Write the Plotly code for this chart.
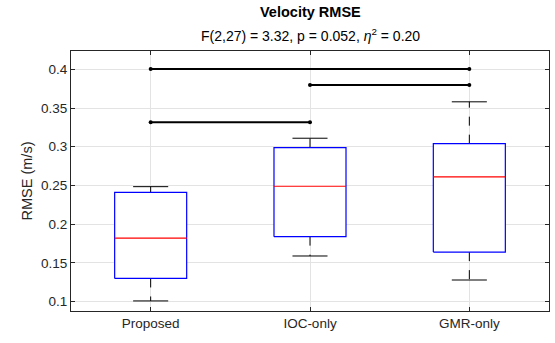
import plotly.graph_objects as go

categories = ["Proposed", "IOC-only", "GMR-only"]
lower_whisker = [0.101, 0.159, 0.128]
q1 = [0.130, 0.184, 0.164]
median = [0.182, 0.249, 0.261]
q3 = [0.241, 0.299, 0.304]
upper_whisker = [0.2485, 0.311, 0.358]

sig_pairs = [(1, 3), (2, 3), (1, 2)]
sig_heights = [0.4005, 0.3797, 0.3316]

y_ticks = [0.1, 0.15, 0.2, 0.25, 0.3, 0.35, 0.4]

BOX_HW = 0.226
CAP_HW = 0.11
AX = "#262626"
FONT = "Liberation Sans, Arial, sans-serif"

fig = go.Figure()
xs = list(range(1, len(categories) + 1))

for i, x in enumerate(xs):
    # whiskers (dashed)
    fig.add_trace(go.Scatter(x=[x, x, None, x, x], y=[q3[i], upper_whisker[i], None, q1[i], lower_whisker[i]],
                             mode="lines", line=dict(color="black", width=1, dash="dash"),
                             showlegend=False, hoverinfo="skip"))
    # caps
    fig.add_trace(go.Scatter(x=[x - CAP_HW, x + CAP_HW, None, x - CAP_HW, x + CAP_HW],
                             y=[upper_whisker[i], upper_whisker[i], None, lower_whisker[i], lower_whisker[i]],
                             mode="lines", line=dict(color="black", width=1),
                             showlegend=False, hoverinfo="skip"))
    # box
    fig.add_trace(go.Scatter(x=[x - BOX_HW, x + BOX_HW, x + BOX_HW, x - BOX_HW, x - BOX_HW],
                             y=[q1[i], q1[i], q3[i], q3[i], q1[i]],
                             mode="lines", line=dict(color="#0000ff", width=1.2),
                             fill="toself", fillcolor="rgba(255,255,255,1)",
                             showlegend=False, hoverinfo="skip"))
    # median
    fig.add_trace(go.Scatter(x=[x - BOX_HW, x + BOX_HW], y=[median[i], median[i]],
                             mode="lines", line=dict(color="#ff0000", width=1.2),
                             showlegend=False, hoverinfo="skip"))

for (a, b), h in zip(sig_pairs, sig_heights):
    fig.add_trace(go.Scatter(x=[a, b], y=[h, h], mode="lines+markers",
                             line=dict(color="black", width=2),
                             marker=dict(color="black", size=4),
                             showlegend=False, hoverinfo="skip"))

fig.update_layout(
    width=555, height=343,
    margin=dict(l=71, r=6, t=51, b=32),
    paper_bgcolor="white", plot_bgcolor="white",
    font=dict(family=FONT, color=AX, size=13),
    annotations=[
        dict(text="<b>Velocity RMSE</b>", x=0.5, y=1, xref="paper", yref="paper",
             yshift=39, showarrow=False, font=dict(size=14.5, color="black"), yanchor="middle"),
        dict(text="F(2,27) = 3.32, p = 0.052, <i>η</i><sup>2</sup> = 0.20", x=0.5, y=1,
             xref="paper", yref="paper", yshift=16, showarrow=False,
             font=dict(size=14, color="black"), yanchor="middle"),
    ],
)
fig.update_xaxes(range=[0.5, 3.5], tickvals=xs, ticktext=categories,
                 showgrid=True, gridcolor="#e3e3e3", gridwidth=1,
                 showline=True, linecolor=AX, linewidth=1, mirror="ticks",
                 ticks="inside", ticklen=4, tickcolor=AX, zeroline=False,
                 tickfont=dict(size=13.5, color=AX))
fig.update_yaxes(range=[0.088, 0.4236], tickvals=y_ticks, ticktext=[f"{v:g}" for v in y_ticks],
                 showgrid=True, gridcolor="#e3e3e3", gridwidth=1,
                 showline=True, linecolor=AX, linewidth=1, mirror="ticks",
                 ticks="inside", ticklen=4, tickcolor=AX, zeroline=False,
                 title=dict(text="RMSE (m/s)", font=dict(size=14.5, color=AX), standoff=4),
                 tickfont=dict(size=13.5, color=AX))

fig.write_html("out.html", config={"displayModeBar": False},
               post_script="document.body.style.margin='0px';")
